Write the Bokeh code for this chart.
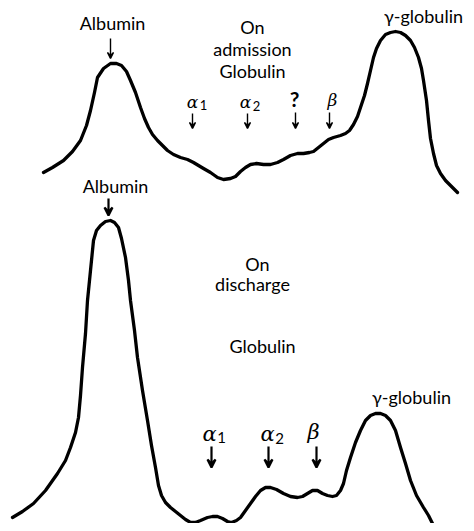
from bokeh.plotting import figure
from bokeh.models import Range1d, ColumnDataSource, Arrow, VeeHead
from bokeh.core.properties import value
from bokeh.embed import file_html
from bokeh.resources import INLINE

# ---- traced curves (page pixel coordinates, y downward) ----
admission_x = [43, 52, 63, 72, 80, 86, 90, 94, 97, 103, 110, 116, 121, 126, 130, 135, 140, 144, 148, 152,
               157, 162, 167, 173, 180, 187, 193, 198, 203, 210, 217, 223, 230, 235, 240, 245, 250, 256, 263,
               270, 277, 283, 290, 297, 303, 309, 313, 318, 323, 328, 333, 340, 345, 349, 353, 357, 360, 364,
               367, 370, 373, 376, 380, 385, 390, 395, 400, 405, 410, 414, 418, 421, 423, 426, 428, 430, 433,
               436, 440, 445, 450, 457]
admission_y = [172, 167, 160, 151, 140, 125, 110, 92, 77, 68, 63, 63, 65, 71, 80, 92, 107, 118, 127, 134,
               140, 145, 150, 154, 157, 159, 162, 165, 168, 172, 177, 179, 178, 176, 171, 167, 164, 163, 164,
               164, 162, 159, 155, 153, 153, 152, 151, 147, 143, 139, 137, 135, 133, 130, 124, 116, 107, 95,
               83, 70, 57, 48, 40, 34, 32, 31, 32, 35, 40, 47, 57, 68, 80, 100, 120, 138, 153,
               165, 173, 180, 185, 192]

discharge_x = [12, 22, 33, 45, 57, 65, 70, 75, 78, 80, 82, 85, 87, 90, 93, 96, 100, 105, 110, 114, 118, 121,
               125, 128, 130, 134, 137, 142, 147, 151, 155, 158, 161, 165, 170, 175, 180, 185, 190, 195, 200,
               207, 212, 217, 222, 227, 231, 236, 240, 245, 250, 255, 260, 265, 270, 276, 283, 290, 297, 302,
               307, 312, 317, 322, 327, 332, 336, 340, 343, 346, 350, 355, 360, 365, 370, 375, 380, 385, 390,
               395, 400, 405, 410, 416, 423, 428, 433]
discharge_y = [517, 511, 503, 490, 473, 460, 447, 432, 417, 395, 367, 333, 300, 270, 240, 230, 225, 221, 220,
               222, 227, 238, 257, 280, 300, 330, 357, 390, 420, 445, 467, 485, 495, 502, 507, 511, 515, 519,
               522, 522, 520, 517, 516, 516, 518, 521, 522, 520, 517, 510, 503, 496, 490, 487, 487, 489, 493,
               496, 497, 496, 493, 490, 490, 493, 495, 496, 495, 490, 483, 470, 457, 442, 430, 420, 415, 413,
               413, 415, 420, 430, 447, 463, 480, 495, 507, 515, 525]

# ---- labels ----
plain_labels = ["Albumin", "On", "admission", "Globulin", "\u03b3-globulin",
                "Albumin", "On", "discharge", "Globulin", "\u03b3-globulin"]
plain_x = [112, 252, 252, 252, 423, 115, 257, 252, 262, 411]
plain_y = [22, 26, 48, 70, 15, 185, 263, 283, 345, 396]

question_label = ["?"]
question_x = [294]
question_y = [98]

greek_top = ["\u03b1", "\u03b1", "\u03b2"]
greek_top_x = [192, 245, 332]
greek_top_y = [101, 101, 99]
sub_top = ["1", "2"]
sub_top_x = [203, 256]
sub_top_y = [104, 105]

greek_bot = ["\u03b1", "\u03b1", "\u03b2"]
greek_bot_x = [209, 267, 313]
greek_bot_y = [433, 433, 431]
sub_bot = ["1", "2"]
sub_bot_x = [221, 279]
sub_bot_y = [437, 438]

thin_arrow_x = [110, 192, 247, 295, 329]
thin_arrow_y0 = [38, 113, 113, 112, 112]
thin_arrow_y1 = [58, 128, 128, 128, 128]

bold_arrow_x = [108, 211, 268, 316]
bold_arrow_y0 = [198, 446, 446, 446]
bold_arrow_y1 = [215, 467, 467, 467]

p = figure(width=466, height=523, output_backend="svg", toolbar_location=None,
           x_range=Range1d(0, 466), y_range=Range1d(523, 0), min_border=0)
p.axis.visible = False
p.grid.visible = False
p.outline_line_color = None
p.background_fill_color = "white"

p.line(admission_x, admission_y, line_width=3.3, line_color="black", line_join="round", line_cap="round")
p.line(discharge_x, discharge_y, line_width=3.3, line_color="black", line_join="round", line_cap="round")

p.text(x=plain_x, y=plain_y, text=plain_labels, text_font=value("Lato"), text_font_size="18px",
       text_align="center", text_baseline="middle", text_color="black")
p.text(x=question_x, y=question_y, text=question_label, text_font=value("Lato"), text_font_size="21px",
       text_font_style="bold", text_align="center", text_baseline="middle")

p.text(x=greek_top_x, y=greek_top_y, text=greek_top, text_font=value("DejaVu Serif"),
       text_font_style="italic", text_font_size="17px", text_align="center", text_baseline="middle")
p.text(x=sub_top_x, y=sub_top_y, text=sub_top, text_font=value("Lato"), text_font_size="13px",
       text_align="center", text_baseline="middle")
p.text(x=greek_bot_x, y=greek_bot_y, text=greek_bot, text_font=value("DejaVu Serif"),
       text_font_style="italic", text_font_size="21px", text_align="center", text_baseline="middle")
p.text(x=sub_bot_x, y=sub_bot_y, text=sub_bot, text_font=value("Lato"), text_font_size="15px",
       text_align="center", text_baseline="middle")

thin_src = ColumnDataSource(dict(x=thin_arrow_x, y0=thin_arrow_y0, y1=thin_arrow_y1))
p.add_layout(Arrow(x_start="x", y_start="y0", x_end="x", y_end="y1", source=thin_src,
                   line_width=1.4, end=VeeHead(size=6, line_width=1.4)))
bold_src = ColumnDataSource(dict(x=bold_arrow_x, y0=bold_arrow_y0, y1=bold_arrow_y1))
p.add_layout(Arrow(x_start="x", y_start="y0", x_end="x", y_end="y1", source=bold_src,
                   line_width=2.2, end=VeeHead(size=8, line_width=2.2)))

open("out.html", "w").write(file_html(p, INLINE))
